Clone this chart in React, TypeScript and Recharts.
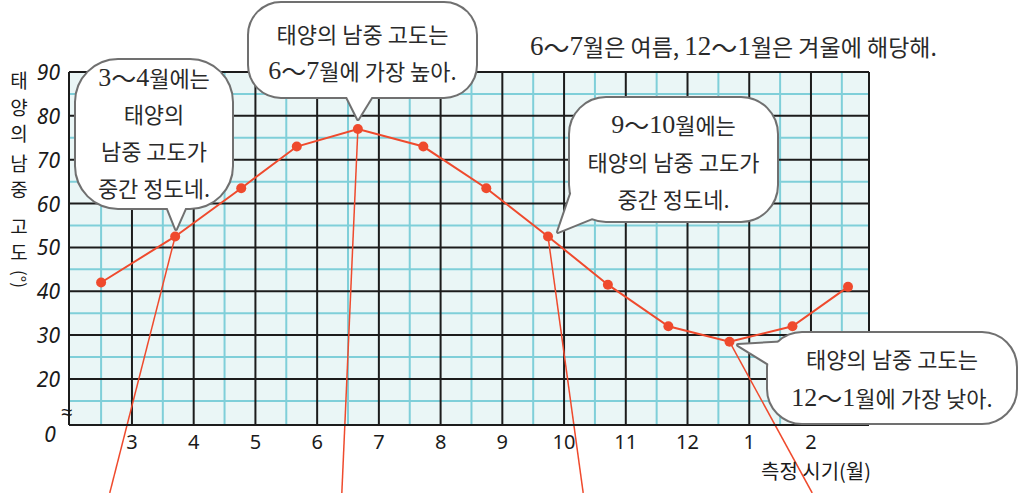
import { LineChart, Line, XAxis, YAxis, CartesianGrid, ReferenceLine } from "recharts";

document.body.style.margin = "0";

// x is measured in months: tick k is MONTH_LABELS[k], points fall late in each month
const MONTH_LABELS = ["3", "4", "5", "6", "7", "8", "9", "10", "11", "12", "1", "2"];
const MEASURE_POS = [-0.5, 0.7, 1.77, 2.67, 3.66, 4.72, 5.74, 6.74, 7.71, 8.69, 9.68, 10.7, 11.6];
const ALTITUDE = [42, 52.5, 63.5, 73, 77, 73, 63.5, 52.5, 41.5, 32, 28.5, 32, 41];
const Y_TICKS = [9.5, 20, 30, 40, 50, 60, 70, 80, 90];
const Y_MINOR = [15, 25, 35, 45, 55, 65, 75, 85];
const X_DOMAIN = [-1.02, 11.94];
const X_MINOR = [-0.5, 0.5, 1.5, 2.5, 3.5, 4.5, 5.5, 6.5, 7.5, 8.5, 9.5, 10.5, 11.5];

// pointer lines that run from a point to the pictures below the chart
const POINTER_FROM = [1, 4, 7, 10];
const POINTER_TO_X = [-0.36, 3.4, 7.31, 11.02];
const POINTER_TO_Y = -6;

const data = ALTITUDE.map((alt, i) => ({ x: MEASURE_POS[i], alt }));

const RED = "#ef4a2d";
const KR = "'Noto Sans CJK KR', 'Noto Sans', sans-serif";
const SERIF = "'Liberation Serif', 'DejaVu Serif', serif";
const TICK_FONT = "'Noto Sans', sans-serif";

function Mixed({ x, y, text, anchor = "middle", size = 22 }: { x: number; y: number; text: string; anchor?: string; size?: number }) {
  const runs = text.match(/[0-9]+|～|[^0-9～]+/g) || [];
  return (
    <text x={x} y={y} textAnchor={anchor as any} dominantBaseline="central" fontFamily={KR} fontSize={size} fill="#2a2a2a">
      {runs.map((r, i) => {
        if (/[0-9]/.test(r)) return <tspan key={i} fontFamily={SERIF} fontSize={size + 4}>{r}</tspan>;
        if (r === "～") return <tspan key={i} fontSize={size + 3}>{r}</tspan>;
        return <tspan key={i}>{r}</tspan>;
      })}
    </text>
  );
}

function rectPath(x: number, y: number, w: number, h: number, r: number) {
  return `M${x + r},${y} H${x + w - r} A${r},${r} 0 0 1 ${x + w},${y + r} V${y + h - r} A${r},${r} 0 0 1 ${x + w - r},${y + h} H${x + r} A${r},${r} 0 0 1 ${x},${y + h - r} V${y + r} A${r},${r} 0 0 1 ${x + r},${y} Z`;
}

interface BubbleProps {
  x: number; y: number; w: number; h: number; r: number;
  tail: [number, number][];
  lines: string[];
  lineY: number[];
}

function Bubble({ x, y, w, h, r, tail, lines, lineY }: BubbleProps) {
  const body = rectPath(x, y, w, h, r);
  const t = `M${tail[0][0]},${tail[0][1]} L${tail[1][0]},${tail[1][1]} L${tail[2][0]},${tail[2][1]} Z`;
  return (
    <g>
      <path d={body} fill="none" stroke="#707070" strokeWidth={4} />
      <path d={t} fill="none" stroke="#707070" strokeWidth={4} strokeLinejoin="round" />
      <path d={body} fill="#fff" />
      <path d={t} fill="#fff" />
      {lines.map((l, i) => (
        <Mixed key={i} x={x + w / 2} y={lineY[i]} text={l} />
      ))}
    </g>
  );
}

const renderXTick = (props: any) => {
  const { x, y, payload } = props;
  return (
    <text x={x} y={y + 8} textAnchor="middle" dominantBaseline="central" fontFamily={TICK_FONT} fontSize={20} fill="#1a1a1a">
      {MONTH_LABELS[payload.value]}
    </text>
  );
};

const renderYTick = (props: any) => {
  const { x, y, payload } = props;
  if (payload.value === 9.5) {
    return (
      <g>
        <text x={x - 11} y={y + 9} textAnchor="middle" dominantBaseline="central" fontFamily={TICK_FONT} fontStyle="italic" fontSize={21} fill="#1a1a1a">0</text>
        <text x={x + 6} y={y - 14} textAnchor="middle" dominantBaseline="central" fontFamily={TICK_FONT} fontSize={20} fill="#1a1a1a">≈</text>
      </g>
    );
  }
  return (
    <text x={x - 1} y={y} textAnchor="end" dominantBaseline="central" fontFamily={TICK_FONT} fontStyle="italic" fontSize={21} fill="#1a1a1a">
      {payload.value}
    </text>
  );
};

const TITLE_CHARS = ["태", "양", "의", "남", "중", "고", "도"];
const TITLE_Y = [79, 106, 132, 162, 188, 225, 251];

export default function App() {
  return (
    <div style={{ position: "relative", width: 1020, height: 493, background: "#fff" }}>
      <LineChart width={1020} height={493} data={data} margin={{ top: 72, right: 151, left: 9, bottom: 28 }}>
        <CartesianGrid
          fill="#eaf6f6"
          stroke="#7fcfd9"
          strokeWidth={2}
          horizontalValues={Y_MINOR}
          verticalValues={X_MINOR}
        />
        <CartesianGrid
          stroke="#1c1c1c"
          strokeWidth={2}
          horizontalValues={Y_TICKS.slice(1)}
          verticalValues={[...MONTH_LABELS.map((_, i) => i), X_DOMAIN[1]]}
        />
        <XAxis
          type="number"
          dataKey="x"
          domain={X_DOMAIN}
          ticks={MONTH_LABELS.map((_, i) => i)}
          allowDataOverflow
          height={40}
          tickLine={false}
          axisLine={{ stroke: "#1c1c1c", strokeWidth: 2 }}
          tick={renderXTick}
        />
        <YAxis
          type="number"
          domain={[9.5, 90]}
          ticks={Y_TICKS}
          allowDataOverflow
          width={60}
          tickLine={false}
          axisLine={{ stroke: "#1c1c1c", strokeWidth: 2 }}
          tick={renderYTick}
        />
        {POINTER_FROM.map((idx, i) => (
          <ReferenceLine
            key={i}
            segment={[
              { x: MEASURE_POS[idx], y: ALTITUDE[idx] },
              { x: POINTER_TO_X[i], y: POINTER_TO_Y },
            ]}
            stroke={RED}
            strokeWidth={1.5}
            ifOverflow="visible"
          />
        ))}
        <Line
          type="linear"
          dataKey="alt"
          stroke={RED}
          strokeWidth={2}
          dot={{ r: 5, fill: RED, stroke: "none" }}
          isAnimationActive={false}
        />
      </LineChart>
      <svg width={1020} height={493} style={{ position: "absolute", left: 0, top: 0, pointerEvents: "none" }}>
        {TITLE_CHARS.map((c, i) => (
          <text key={i} x={19} y={TITLE_Y[i]} textAnchor="middle" dominantBaseline="central" fontFamily={KR} fontSize={19} fill="#1a1a1a">{c}</text>
        ))}
        <text x={20} y={279} textAnchor="middle" dominantBaseline="central" fontFamily={KR} fontSize={17} fill="#1a1a1a" transform="rotate(90 20 279)">(°)</text>
        <text x={816} y={470} textAnchor="middle" dominantBaseline="central" fontFamily={KR} fontSize={20} fill="#1a1a1a">측정 시기(월)</text>
        <Mixed x={530} y={46} text="6～7월은 여름, 12～1월은 겨울에 해당해." anchor="start" size={23} />
        <Bubble
          x={76} y={60} w={156} h={148} r={42}
          tail={[[166, 204], [176, 229], [187, 204]]}
          lines={["3～4월에는", "태양의", "남중 고도가", "중간 정도네."]}
          lineY={[77, 113, 150, 187]}
        />
        <Bubble
          x={249} y={3} w={227} h={94} r={32}
          tail={[[345, 93], [358, 119], [374, 93]]}
          lines={["태양의 남중 고도는", "6～7월에 가장 높아."]}
          lineY={[33, 70]}
        />
        <Bubble
          x={570} y={98} w={207} h={123} r={36}
          tail={[[573, 188], [558, 232], [595, 217]]}
          lines={["9～10월에는", "태양의 남중 고도가", "중간 정도네."]}
          lineY={[124, 161, 198]}
        />
        <Bubble
          x={768} y={333} w={248} h={90} r={34}
          tail={[[790, 342], [738, 345], [772, 366]]}
          lines={["태양의 남중 고도는", "12～1월에 가장 낮아."]}
          lineY={[358, 397]}
        />
      </svg>
    </div>
  );
}
